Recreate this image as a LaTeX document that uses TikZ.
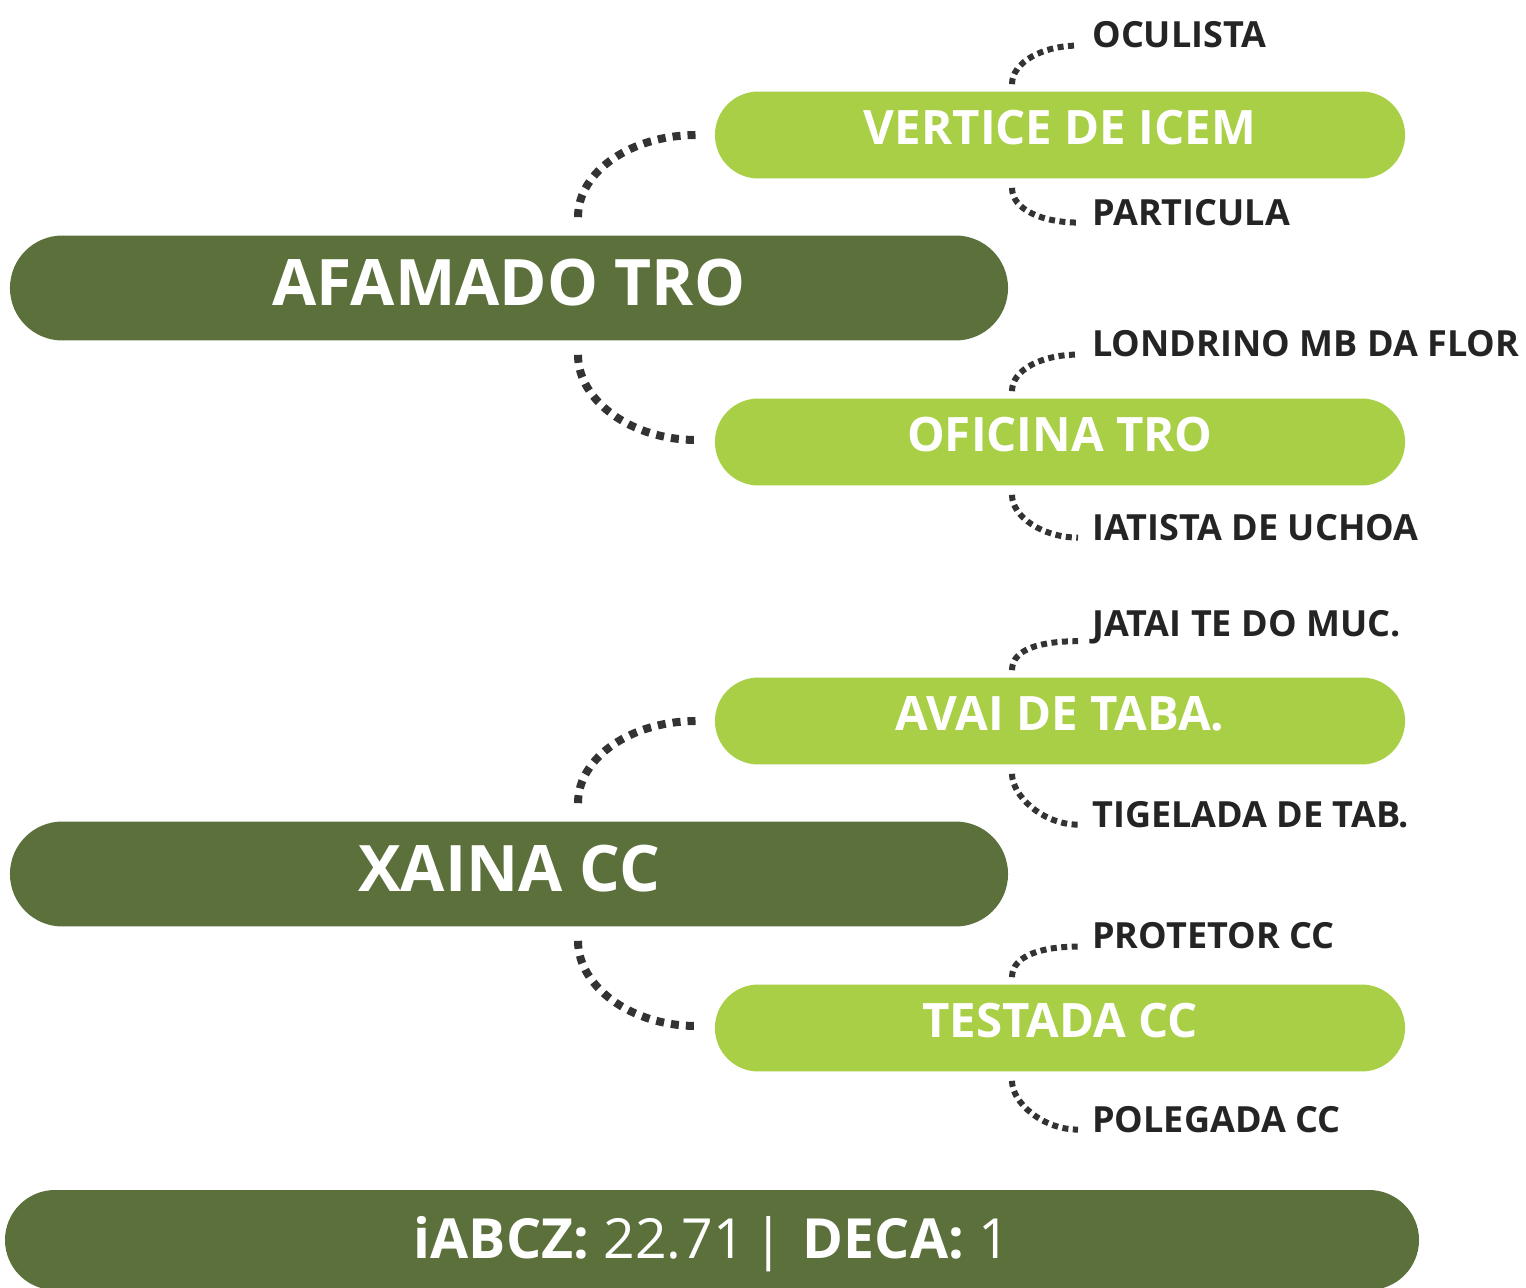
\documentclass[tikz,border=0pt]{standalone}
\usepackage{fontspec}
\setmainfont{Open Sans}
\usetikzlibrary{shapes.misc}
\definecolor{darkolive}{HTML}{5C703C}
\definecolor{limegreen}{HTML}{A8CF45}
\definecolor{dotgray}{HTML}{333333}

\begin{document}
\begin{tikzpicture}[x = 0.02cm, y = -0.02cm,
        mainbar/.style = {rounded rectangle, fill = darkolive, text = white,
          minimum width = 20.2cm, minimum height = 2.1cm, text depth = 0.24cm,
          font = \bfseries\fontsize{36.5}{36.5}\selectfont},
        subbar/.style = {rounded rectangle, fill = limegreen, text = white,
          minimum width = 14.04cm, minimum height = 1.74cm, text depth = 0.3cm,
          font = \bfseries\fontsize{27}{27}\selectfont},
        scorebar/.style = {rounded rectangle, fill = darkolive, text = white,
          minimum width = 28.52cm, minimum height = 2cm, text depth = 0.1cm,
          font = \fontsize{31.5}{31.5}\selectfont},
        leaf/.style = {anchor = west, inner sep = 0, text = dotgray!70!black,
          font = \bfseries\fontsize{20.5}{20.5}\selectfont},
        bigdots/.style = {draw = dotgray, line width = 0.16cm,
          dash pattern = on 0.16cm off 0.14cm},
        smalldots/.style = {draw = dotgray, line width = 0.12cm,
          dash pattern = on 0.12cm off 0.09cm}]
        \useasboundingbox (0,0) rectangle (1526,1288);
        % first group
        \node [mainbar] (afamado) at (509,288) {AFAMADO TRO};
        \node [subbar] (vertice) at (1060,135) {VERTICE DE ICEM};
        \node [subbar] (oficina) at (1060,442) {OFICINA TRO};
        \node [leaf] (oculista) at (1092,35) {OCULISTA};
        \node [leaf] (particula) at (1092,213) {PARTICULA};
        \node [leaf] (londrino) at (1092,344) {LONDRINO MB DA FLOR};
        \node [leaf] (iatista) at (1092,528) {IATISTA DE UCHOA};
        \draw [bigdots] ([shift={(69,-18)}]afamado.north) .. controls +(0,-46) and +(-65,0) .. ([shift={(-18,0)}]vertice.west);
        \draw [bigdots] ([shift={(69,14)}]afamado.south) .. controls +(0,46) and +(-65,0) .. ([shift={(-18,-2)}]oficina.west);
        \draw [smalldots] ([shift={(-48,-7)}]vertice.north) .. controls +(0,-22) and +(-35,0) .. ([shift={(-14,-3)}]oculista.south west);
        \draw [smalldots] ([shift={(-48,9)}]vertice.south) .. controls +(0,22) and +(-35,0) .. ([shift={(-14,-4)}]particula.south west);
        \draw [smalldots] ([shift={(-48,-7)}]oficina.north) .. controls +(0,-22) and +(-35,0) .. ([shift={(-14,-3)}]londrino.south west);
        \draw [smalldots] ([shift={(-48,9)}]oficina.south) .. controls +(0,22) and +(-35,0) .. ([shift={(-14,-4)}]iatista.south west);
        % second group
        \node [mainbar] (xaina) at (509,874) {XAINA CC};
        \node [subbar] (avai) at (1060,721) {AVAI DE TABA.};
        \node [subbar] (testada) at (1060,1028) {TESTADA CC};
        \node [leaf] (jatai) at (1092,627) {JATAI TE DO MUC.};
        \node [leaf] (tigelada) at (1092,815) {TIGELADA DE TAB.};
        \node [leaf] (protetor) at (1092,936) {PROTETOR CC};
        \node [leaf] (polegada) at (1092,1120) {POLEGADA CC};
        \draw [bigdots] ([shift={(69,-18)}]xaina.north) .. controls +(0,-46) and +(-65,0) .. ([shift={(-18,0)}]avai.west);
        \draw [bigdots] ([shift={(69,14)}]xaina.south) .. controls +(0,46) and +(-65,0) .. ([shift={(-18,-2)}]testada.west);
        \draw [smalldots] ([shift={(-48,-7)}]avai.north) .. controls +(0,-22) and +(-35,0) .. ([shift={(-14,-3)}]jatai.south west);
        \draw [smalldots] ([shift={(-48,9)}]avai.south) .. controls +(0,22) and +(-35,0) .. ([shift={(-14,-4)}]tigelada.south west);
        \draw [smalldots] ([shift={(-48,-7)}]testada.north) .. controls +(0,-22) and +(-35,0) .. ([shift={(-14,-3)}]protetor.south west);
        \draw [smalldots] ([shift={(-48,9)}]testada.south) .. controls +(0,22) and +(-35,0) .. ([shift={(-14,-4)}]polegada.south west);
        % scores
        \node [scorebar] (scores) at (712,1240) {\textbf{iABCZ:} 22.71\hspace{0.15em}|\hspace{0.35em}\textbf{DECA:} 1};
\end{tikzpicture}
\end{document}
